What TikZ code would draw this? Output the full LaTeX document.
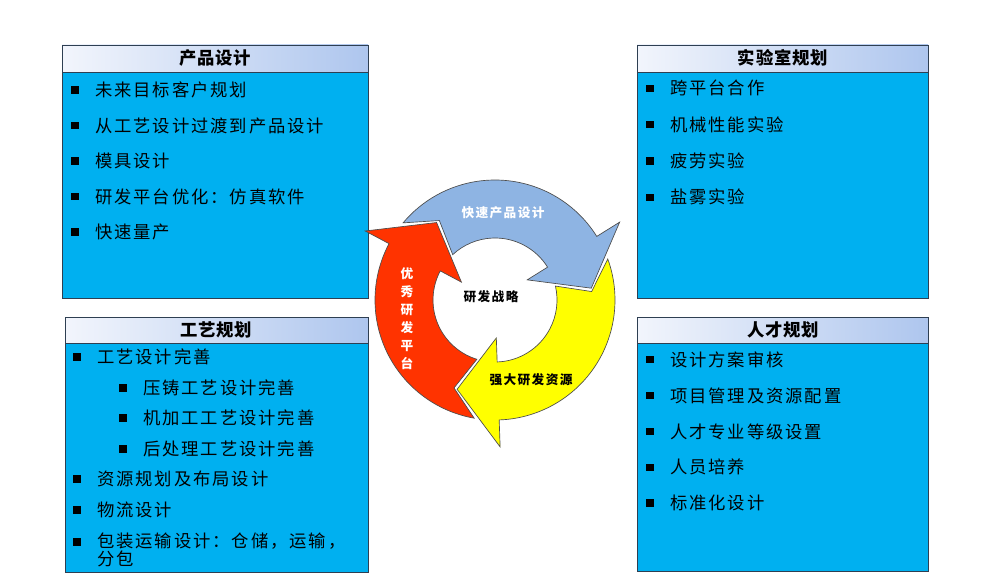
\documentclass[tikz,border=0pt]{standalone}
\usepackage{fontspec}
\newfontfamily\cjk[LetterSpace=11]{Noto Sans CJK SC}
\newfontfamily\cjkhead[LetterSpace=5]{Noto Sans CJK SC}
\usetikzlibrary{positioning}
\definecolor{bodycyan}{HTML}{00B0F0}
\definecolor{headleft}{HTML}{F2F5FC}
\definecolor{headright}{HTML}{AEC6EE}
\definecolor{frame}{HTML}{2E3F52}
\definecolor{cycblue}{HTML}{8EB4E3}
\definecolor{cycred}{HTML}{FF3300}
\definecolor{cycyellow}{HTML}{FFFF00}
\tikzstyle{boxbody} = [draw=frame, fill=bodycyan, line width=0.6pt]
\tikzstyle{boxhead} = [draw=frame, left color=headleft, right color=headright, line width=0.6pt]
\tikzstyle{headtext} = [font=\cjkhead\fontsize{13}{15}\selectfont\bfseries]
\tikzstyle{itemtext} = [font=\cjk\fontsize{13}{13}\selectfont, anchor=west, inner sep=0pt, align=left]
\tikzstyle{bulletsq} = [fill=black, minimum size=5.5pt, inner sep=0pt]
\tikzstyle{cyclearrow} = [draw=black!70, line width=0.5pt, line join=miter]
\tikzstyle{cyctext} = [font=\cjk\fontsize{9.5}{14}\selectfont\bfseries, align=center]

\begin{document}
\begin{tikzpicture}[x=0.75pt, y=-0.75pt]
\useasboundingbox (0,0) rectangle (1000,588);

% four boxes
\draw [boxbody] (62,72) rectangle (368,298);
\shade [boxhead] (62,45) rectangle (368,72);
\draw [boxbody] (637,72) rectangle (928,298);
\shade [boxhead] (637,45) rectangle (928,72);
\draw [boxbody] (65,343) rectangle (368,572);
\shade [boxhead] (65,317) rectangle (368,343);
\draw [boxbody] (637,343) rectangle (928,571);
\shade [boxhead] (637,317) rectangle (928,343);

\node (pdhead) [headtext] at (215,58) {产品设计};
\node (labhead) [headtext] at (783,58) {实验室规划};
\node (prhead) [headtext] at (216,330) {工艺规划};
\node (hrhead) [headtext] at (783,330) {人才规划};

% product design
\foreach \txt [count=\i] in {未来目标客户规划, 从工艺设计过渡到产品设计, 模具设计, 研发平台优化：仿真软件, 快速量产}
{
  \node (pdb\i) [bulletsq] at (75,54.5+35.5*\i) {};
  \node (pd\i) [itemtext, right=12pt of pdb\i] {\txt};
}

% lab planning
\foreach \txt [count=\i] in {跨平台合作, 机械性能实验, 疲劳实验, 盐雾实验}
{
  \node (labb\i) [bulletsq] at (650,52+36.3*\i) {};
  \node (lab\i) [itemtext, right=12pt of labb\i] {\txt};
}

% process planning
\foreach \bx/\by/\txt [count=\i] in {77/357/工艺设计完善, 123/388/压铸工艺设计完善, 123/418/机加工工艺设计完善, 123/449/后处理工艺设计完善, 77/479/资源规划及布局设计, 77/510/物流设计}
{
  \node (prb\i) [bulletsq] at (\bx,\by) {};
  \node (pr\i) [itemtext, right=12pt of prb\i] {\txt};
}
\node (prb7) [bulletsq] at (77,542) {};
\node (pr7) [itemtext, anchor=north west] at (97,533) {包装运输设计：仓储，运输，\\分包};

% talent planning
\foreach \txt [count=\i] in {设计方案审核, 项目管理及资源配置, 人才专业等级设置, 人员培养, 标准化设计}
{
  \node (hrb\i) [bulletsq] at (650,324+35.8*\i) {};
  \node (hr\i) [itemtext, right=12pt of hrb\i] {\txt};
}

% cycle
\begin{scope}[shift={(495,300)}, y=0.75pt]
\foreach \h/\c in {32/cycblue, 152/cycred, -88/cycyellow}
  \draw [cyclearrow, fill=\c] (\h+108:120) arc[start angle=\h+108, end angle=\h, radius=120]
    -- (\h:147) -- (\h-25:97) -- (\h:38) -- (\h:62)
    arc[start angle=\h, end angle=\h+101, radius=62] -- (\h+93:97) -- cycle;
\end{scope}

\node (fastpd) [cyctext, white] at (503,213) {快速产品设计};
\node (platform) [cyctext, white, font=\cjk\fontsize{9.5}{13.5}\selectfont\bfseries] at (407,319) {优\\秀\\研\\发\\平\\台};
\node (resource) [cyctext] at (531,380) {强大研发资源};
\node (strategy) [cyctext] at (491,297) {研发战略};

\end{tikzpicture}
\end{document}
